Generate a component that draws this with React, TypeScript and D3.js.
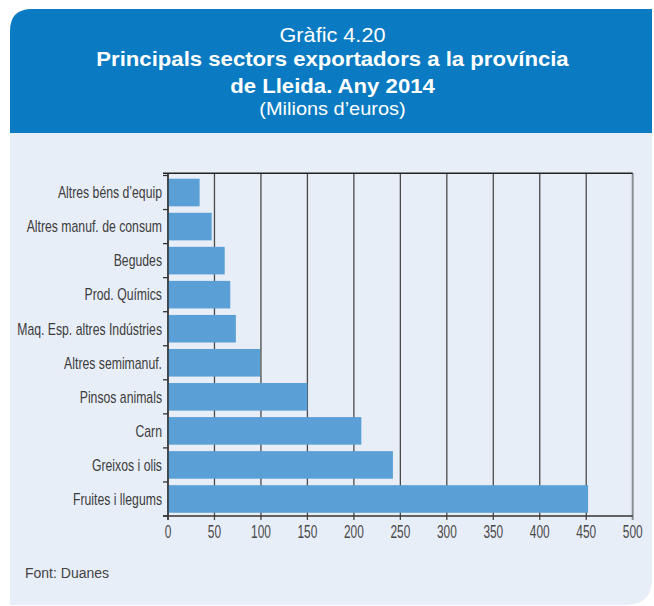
import React from "react";
import * as d3 from "d3";

const categories = [
  "Altres béns d’equip",
  "Altres manuf. de consum",
  "Begudes",
  "Prod. Químics",
  "Maq. Esp. altres Indústries",
  "Altres semimanuf.",
  "Pinsos animals",
  "Carn",
  "Greixos i olis",
  "Fruites i llegums",
];
const values = [34, 47, 61, 67, 73, 99, 150, 208, 242, 452];
const xTicks = [0, 50, 100, 150, 200, 250, 300, 350, 400, 450, 500];

const titleLabel = "Gràfic 4.20";
const titleLines = ["Principals sectors exportadors a la província", "de Lleida. Any 2014"];
const subtitle = "(Milions d’euros)";
const source = "Font: Duanes";

const W = 654;
const H = 606;
const FONT = "'Liberation Sans', Arial, Helvetica, sans-serif";

export default function App() {
  const x = d3.scaleLinear().domain([0, 500]).range([168, 632.7]);
  const y = d3
    .scaleBand<string>()
    .domain(categories)
    .range([175.5, 516])
    .paddingInner(0.19)
    .paddingOuter(0.095);
  const step = y.step();
  const bandStart = 175.5;
  const boundaries = d3.range(categories.length + 1).map((i) => bandStart + i * step);

  const L = 10, R = 652, T = 9, B = 605, HB = 133;
  const r1 = 22, r2 = 26;
  const headerPath = `M${L},${HB} L${L},${T + r1} Q${L},${T} ${L + r1},${T} L${R},${T} L${R},${HB} Z`;
  const panelPath = `M${L},${HB} L${R},${HB} L${R},${B - r2} Q${R},${B} ${R - r2},${B} L${L},${B} Z`;
  const cx = 332.5;

  return (
    <svg width={W} height={H} style={{ position: "absolute", left: 0, top: 0 }} fontFamily={FONT}>
      <rect x={0} y={0} width={W} height={H} fill="#ffffff" />
      <path d={panelPath} fill="#e8eef8" />
      <path d={headerPath} fill="#0a7bc2" />
      <text transform={`translate(${cx},42.3) scale(1.084,1)`} textAnchor="middle" fill="#ffffff" fontSize={20}>
        {titleLabel}
      </text>
      {titleLines.map((t, i) => (
        <text
          key={t}
          transform={`translate(${cx},${66 + i * 26.7}) scale(1.08,1)`}
          textAnchor="middle"
          fill="#ffffff"
          fontSize={20.5}
          fontWeight="bold"
        >
          {t}
        </text>
      ))}
      <text transform={`translate(${cx},114.5) scale(1.05,1)`} textAnchor="middle" fill="#ffffff" fontSize={19}>
        {subtitle}
      </text>

      {/* gridlines */}
      {xTicks.map((t) => (
        <line
          key={"g" + t}
          x1={x(t)}
          x2={x(t)}
          y1={173.3}
          y2={520}
          stroke={t === 500 ? "#8a8d92" : "#4a4a4a"}
          strokeWidth={t === 500 ? 2 : 1.3}
        />
      ))}
      {/* top frame line */}
      <line x1={163} x2={x(500)} y1={173.3} y2={173.3} stroke="#222" strokeWidth={1.5} />

      {/* bars */}
      {categories.map((c, i) => (
        <rect key={c} x={x(0)} y={y(c)} width={x(values[i]) - x(0)} height={y.bandwidth()} fill="#5a9fd5" />
      ))}

      {/* y axis */}
      <line x1={x(0)} x2={x(0)} y1={173.3} y2={520} stroke="#333" strokeWidth={1.5} />
      {boundaries.map((b, i) => (
        <line key={"yt" + i} x1={163} x2={x(0)} y1={b} y2={b} stroke="#333" strokeWidth={1.3} />
      ))}
      {/* x axis */}
      <line x1={163} x2={x(500)} y1={516} y2={516} stroke="#333" strokeWidth={1.5} />

      {categories.map((c) => (
        <text
          key={"l" + c}
          transform={`translate(162,${(y(c) as number) + y.bandwidth() / 2 + 5.8}) scale(0.765,1)`}
          textAnchor="end"
          fontSize={16}
          fill="#3c3c3c"
        >
          {c}
        </text>
      ))}
      {xTicks.map((t) => (
        <text
          key={"xt" + t}
          transform={`translate(${x(t)},538) scale(0.66,1)`}
          textAnchor="middle"
          fontSize={18}
          fill="#484848"
        >
          {t}
        </text>
      ))}

      <text x={25} y={578.3} fontSize={14} fill="#444">
        {source}
      </text>
    </svg>
  );
}
